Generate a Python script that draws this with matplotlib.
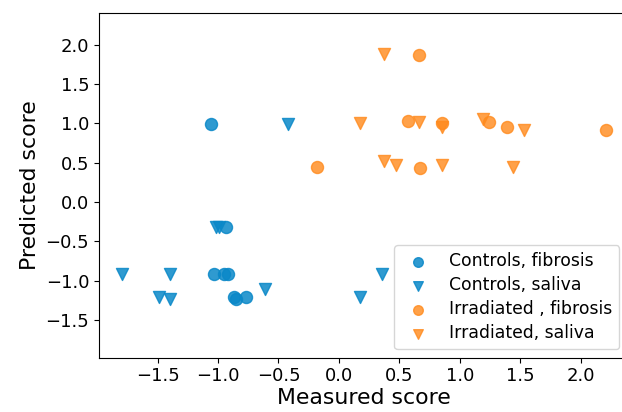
import numpy as np
import matplotlib
matplotlib.use("Agg")
import matplotlib.pyplot as plt

# Controls, fibrosis
ctrl_fib_x = [-1.06, -0.93, -1.03, -0.95, -0.92, -0.87, -0.85, -0.77]
ctrl_fib_y = [0.99, -0.32, -0.92, -0.92, -0.92, -1.21, -1.23, -1.21]

# Controls, saliva
ctrl_sal_x = [-0.42, -1.02, -0.99, -1.79, -1.40, -1.49, -1.40, -0.61, 0.17, 0.36]
ctrl_sal_y = [0.99, -0.32, -0.32, -0.92, -0.92, -1.21, -1.23, -1.11, -1.21, -0.92]

# Irradiated, fibrosis
irr_fib_x = [0.66, 0.57, 0.85, 1.24, 1.39, 2.21, -0.18, 0.67]
irr_fib_y = [1.87, 1.03, 1.00, 1.01, 0.95, 0.91, 0.45, 0.43]

# Irradiated, saliva
irr_sal_x = [0.37, 0.17, 0.66, 0.85, 1.19, 1.53, 0.37, 0.47, 0.85, 1.44]
irr_sal_y = [1.88, 1.00, 1.01, 0.95, 1.05, 0.91, 0.52, 0.47, 0.47, 0.44]

BLUE = "#0a88c8"
ORANGE = "#ff8a1c"

fig, ax = plt.subplots(figsize=(6.22, 4.12), dpi=100)
# the right spine sits just outside the picture, as in the reference crop
fig.subplots_adjust(left=0.159, right=1.0096, top=0.968, bottom=0.132)

ax.scatter(ctrl_fib_x, ctrl_fib_y, marker="o", s=75, color=BLUE, alpha=0.85,
           label="Controls, fibrosis")
ax.scatter(ctrl_sal_x, ctrl_sal_y, marker="v", s=75, color=BLUE, alpha=0.85,
           label="Controls, saliva")
ax.scatter(irr_fib_x, irr_fib_y, marker="o", s=75, color=ORANGE, alpha=0.8,
           label="Irradiated , fibrosis")
ax.scatter(irr_sal_x, irr_sal_y, marker="v", s=75, color=ORANGE, alpha=0.8,
           label="Irradiated, saliva")

ax.set_xlim(-1.985, 2.39)
ax.set_ylim(-1.98, 2.40)
ax.set_xticks([-1.5, -1.0, -0.5, 0.0, 0.5, 1.0, 1.5, 2.0])
ax.set_yticks([-1.5, -1.0, -0.5, 0.0, 0.5, 1.0, 1.5, 2.0])
ax.tick_params(labelsize=13)
ax.set_xlabel("Measured score", fontsize=15.8, labelpad=2)
ax.set_ylabel("Predicted score", fontsize=15.8)

ax.legend(loc="lower right", fontsize=12.4, markerscale=0.8, labelspacing=0.35)

fig.savefig("out.png", dpi=100)
